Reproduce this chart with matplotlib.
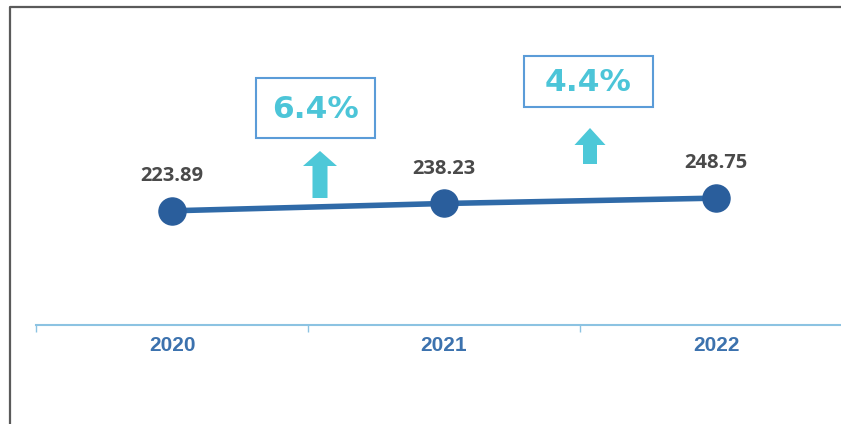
import matplotlib
matplotlib.use("Agg")
import matplotlib.pyplot as plt
from matplotlib.patches import Rectangle, Polygon
from matplotlib.lines import Line2D

years = ["2020", "2021", "2022"]
values = [223.89, 238.23, 248.75]
growth_labels = ["6.4%", "4.4%"]

W, H = 841, 424
fig = plt.figure(figsize=(W / 100, H / 100), dpi=100)
fig.patch.set_facecolor("white")


def fx(x):
    return x / W


def fy(y):
    return 1 - y / H


# outer frame (left and top edges only visible)
fig.add_artist(Line2D([fx(10), fx(10), fx(845)], [fy(424), fy(7), fy(7)],
                      transform=fig.transFigure, color="#5a5a5a", lw=1.6))

ax = fig.add_axes([fx(36), fy(325), fx(852 - 36), (325 - 20) / H])
ax.set_xlim(-0.5, 2.5)
ax.set_ylim(0, 598)
ax.patch.set_alpha(0)

xs = list(range(len(years)))
ax.plot(xs, values, color="#2F6AA8", lw=4, zorder=2, solid_capstyle="butt")
ax.plot(xs, values, "o", color="#2A5E9C", markersize=19.5, zorder=3)

for x, v in zip(xs, values):
    ax.annotate(f"{v:.2f}", (x, v), xytext=(0, 25), textcoords="offset points",
                ha="center", va="center", fontsize=14.5, fontweight="bold",
                family=["Open Sans", "DejaVu Sans"], color="#4a4a4a")

for s in ["top", "left", "right"]:
    ax.spines[s].set_visible(False)
ax.spines["bottom"].set_color("#8cc3e2")
ax.spines["bottom"].set_linewidth(1.5)
ax.set_yticks([])
ax.set_xticks([-0.5, 0.5, 1.5])
ax.set_xticklabels([])
ax.tick_params(axis="x", which="major", length=5, color="#8cc3e2", width=1)
ax.set_xticks(xs, minor=True)
ax.set_xticklabels(years, minor=True, fontsize=15, fontweight="bold",
                   family="Liberation Sans", color="#3C72AE")
ax.tick_params(axis="x", which="minor", length=0, pad=8)

# growth boxes
boxes = [(256, 78, 375, 138), (524, 56, 653, 107)]
for (x0, y0, x1, y1), lab in zip(boxes, growth_labels):
    fig.add_artist(Rectangle((fx(x0), fy(y1)), fx(x1 - x0), (y1 - y0) / H,
                             transform=fig.transFigure, fill=False,
                             edgecolor="#5B9CD8", lw=1.5))
    fig.text(fx((x0 + x1) / 2), fy((y0 + y1) / 2 + 1), lab, ha="center",
             va="center", fontsize=22.5, fontweight="bold",
             family="DejaVu Sans", color="#4CC5D8")

# up arrows
arrows = [(320, 151, 166, 198, 34, 15), (590, 128, 145, 164, 31, 14)]
for cx, tip, hb, base, hw, sw in arrows:
    pts = [(cx, tip), (cx + hw / 2, hb), (cx + sw / 2, hb), (cx + sw / 2, base),
           (cx - sw / 2, base), (cx - sw / 2, hb), (cx - hw / 2, hb)]
    fig.add_artist(Polygon([(fx(px), fy(py)) for px, py in pts], closed=True,
                           transform=fig.transFigure, facecolor="#4DC8D8",
                           edgecolor="none"))

fig.savefig("out.png", dpi=100)
